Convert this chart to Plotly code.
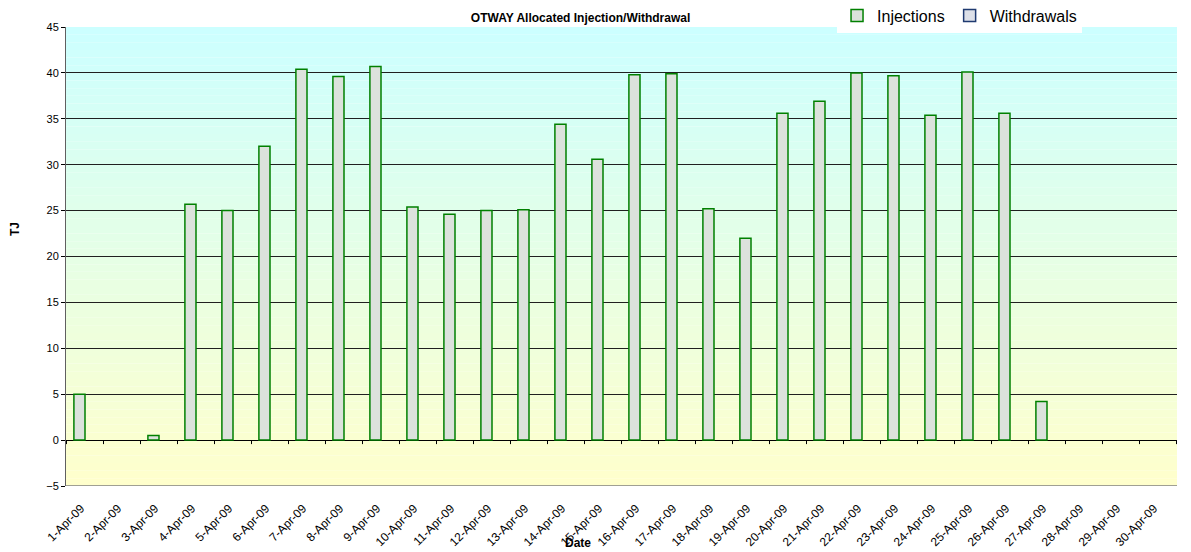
import plotly.graph_objects as go

dates = [f"{d}-Apr-09" for d in range(1, 31)]
injections = [5.0, 0, 0.5, 25.7, 25.0, 32.0, 40.4, 39.6, 40.7, 25.4,
              24.6, 25.0, 25.1, 34.4, 30.6, 39.8, 39.9, 25.2, 22.0, 35.6,
              36.9, 40.0, 39.7, 35.4, 40.1, 35.6, 4.2, 0, 0, 0]
withdrawals = [0] * 30
y_ticks = list(range(-5, 50, 5))

fig = go.Figure()
fig.add_trace(go.Bar(x=dates, y=[v if v else None for v in injections], name="Injections",
                     marker=dict(color="#DCE2DC", line=dict(color="#008000", width=1.5))))
fig.add_trace(go.Bar(x=dates, y=[v if v else None for v in withdrawals], name="Withdrawals",
                     marker=dict(color="#DDE0E8", line=dict(color="#1F3A70", width=1.5))))

# gradient background strips
shapes = []
n = 60
top = (204, 255, 255)
bot = (255, 255, 204)
for i in range(n):
    t = i / (n - 1)
    c = tuple(int(round(top[k] + (bot[k] - top[k]) * t)) for k in range(3))
    shapes.append(dict(type="rect", xref="paper", yref="paper",
                       x0=0, x1=1, y0=1 - (i + 1) / n, y1=1 - i / n,
                       fillcolor=f"rgb{c}", line=dict(width=0), layer="below"))
# tick marks on zero line at category boundaries
for i in range(31):
    shapes.append(dict(type="line", xref="x", yref="y", x0=i - 0.5, x1=i - 0.5,
                       ysizemode="pixel", yanchor=0, y0=-4, y1=0,
                       line=dict(color="black", width=1)))

fig.update_layout(
    width=1183, height=544,
    margin=dict(l=58, r=14, t=19, b=66, autoexpand=False),
    paper_bgcolor="white", plot_bgcolor="rgba(0,0,0,0)",
    barmode="group", bargap=0.40, bargroupgap=0,
    shapes=shapes,
    font=dict(family="Arial, Liberation Sans, sans-serif", color="black"),
    title=dict(text="<b>OTWAY Allocated Injection/Withdrawal</b>", x=0.484, xanchor="center",
               y=0.982, yanchor="middle", font=dict(size=12)),
    legend=dict(orientation="h", x=0.694, xanchor="left", y=1.025, yanchor="middle",
                bgcolor="white", font=dict(size=16), itemwidth=30,
                tracegroupgap=0, borderwidth=0),
    showlegend=True,
    xaxis=dict(tickangle=-45, tickfont=dict(size=12), showgrid=False,
               showline=False, ticks="", ticklabelstandoff=12, ticklabelshift=-4),
    yaxis=dict(range=[-5, 45], tickvals=y_ticks, tickfont=dict(size=11),
               showgrid=True, gridcolor="#202020", gridwidth=1,
               zeroline=True, zerolinecolor="black", zerolinewidth=1,
               showline=True, linecolor="#606060", linewidth=1,
               ticks="outside", ticklen=4, tickcolor="black"),
    annotations=[
        dict(text="<b>TJ</b>", xref="paper", yref="paper", x=-0.0459, y=0.56,
             xanchor="center", yanchor="middle",
             textangle=-90, showarrow=False, font=dict(size=12)),
        dict(text="<b>Date</b>", xref="paper", yref="paper", x=0.461, y=-0.124,
             xanchor="center", yanchor="middle",
             showarrow=False, font=dict(size=12)),
    ],
)
fig.add_shape(type="line", xref="paper", yref="y", x0=0, x1=1, y0=-5, y1=-5,
              line=dict(color="#808080", width=1.5))

fig.write_html("out.html")
